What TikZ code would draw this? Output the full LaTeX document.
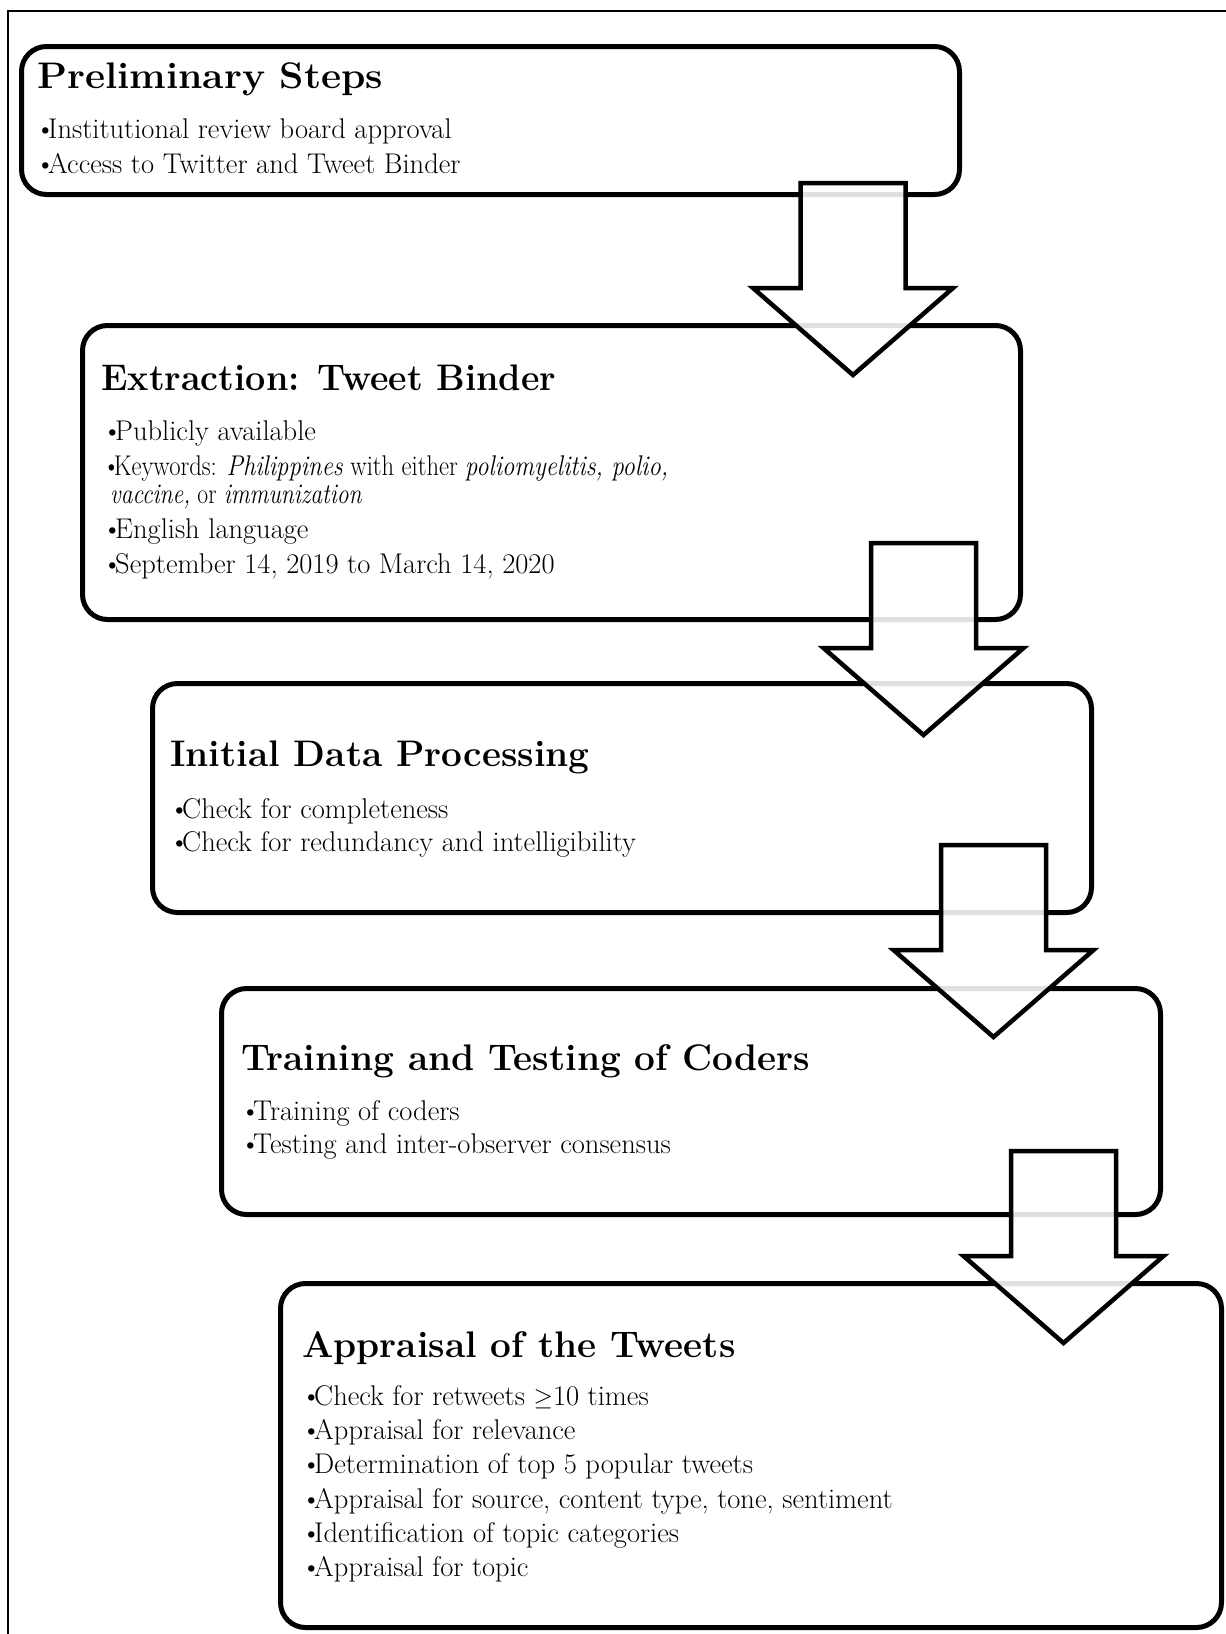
\documentclass[tikz,border=0pt]{standalone}
\usepackage{fontspec}
\newcommand\bul{\makebox[10pt][l]{\hspace{-3pt}\textbullet}}
\begin{document}
\begin{tikzpicture}[x=1pt,y=-1pt,
  stepbox/.style={draw=black, line width=5pt, rounded corners=25pt, fill=white, anchor=north west, inner sep=0pt},
  ttl/.style={anchor=base west, inner sep=0pt, font=\fontsize{37}{42}\selectfont\bfseries},
  itm/.style={anchor=base west, inner sep=0pt, font=\fontsize{28.5}{34}\selectfont},
  arrowline/.style={draw=black, line width=4.5pt, fill=white, fill opacity=0.88, miter limit=10},
  downarrow/.pic={\path[arrowline] (-52.5,0) -- (52.5,0) -- (52.5,105) -- (100,105) -- (0,192) -- (-100,105) -- (-52.5,105) -- cycle;}
]
\useasboundingbox (0,0) rectangle (1226,1634);
\clip (0,0) rectangle (1226,1634);
\fill[white] (0,0) rectangle (1226,1634);
% outer frame (runs off the right and bottom edges)
\draw[line width=2.5pt] (8,1700) -- (8,11) -- (1300,11);

% boxes
\node[stepbox, minimum width=938pt, minimum height=148pt] (b1) at (19,44) {};
\node[stepbox, minimum width=938pt, minimum height=294pt] (b2) at (80,323) {};
\node[stepbox, minimum width=939pt, minimum height=229pt] (b3) at (150,681) {};
\node[stepbox, minimum width=939pt, minimum height=226pt] (b4) at (219,986) {};
\node[stepbox, minimum width=941pt, minimum height=344pt] (b5) at (278,1281) {};

% texts box 1
\node[ttl] (t1) at (37,88) {\resizebox{346pt}{\height}{Preliminary Steps}};
\node[itm] (t1a) at (38,138) {\bul Institutional review board approval};
\node[itm] (t1b) at (38,173) {\bul Access to Twitter and Tweet Binder};

% texts box 2
\node[ttl] (t2) at (101,390) {\resizebox{455pt}{\height}{Extraction: Tweet Binder}};
\node[itm] (t2a) at (105,440) {\bul Publicly available};
\node[itm] (t2b) at (105,475) {\resizebox{563pt}{\height}{\bul Keywords: \textit{Philippines} with either \textit{poliomyelitis, polio,}}};
\node[itm] (t2c) at (110,503) {\resizebox{252pt}{\height}{\textit{vaccine,} or \textit{immunization}}};
\node[itm] (t2d) at (105,538) {\bul English language};
\node[itm] (t2e) at (105,573) {\bul September 14, 2019 to March 14, 2020};

% texts box 3
\node[ttl] (t3) at (170,766) {Initial Data Processing};
\node[itm] (t3a) at (172,818) {\bul Check for completeness};
\node[itm] (t3b) at (172,851) {\bul Check for redundancy and intelligibility};

% texts box 4
\node[ttl] (t4) at (241,1070) {Training and Testing of Coders};
\node[itm] (t4a) at (243,1120) {\bul Training of coders};
\node[itm] (t4b) at (243,1153) {\bul Testing and inter-observer consensus};

% texts box 5
\node[ttl] (t5) at (302,1357) {Appraisal of the Tweets};
\node[itm] (t5a) at (304,1405) {\bul Check for retweets $\geq$10 times};
\node[itm] (t5b) at (304,1439) {\bul Appraisal for relevance};
\node[itm] (t5c) at (304,1473) {\bul Determination of top 5 popular tweets};
\node[itm] (t5d) at (304,1508) {\bul Appraisal for source, content type, tone, sentiment};
\node[itm] (t5e) at (304,1542) {\bul Identification of topic categories};
\node[itm] (t5f) at (304,1576) {\bul Appraisal for topic};

% block arrows
\pic (a1) at (853,183) {downarrow};
\pic (a2) at (923.5,543) {downarrow};
\pic (a3) at (993.5,845) {downarrow};
\pic (a4) at (1063.5,1151) {downarrow};
\end{tikzpicture}
\end{document}
